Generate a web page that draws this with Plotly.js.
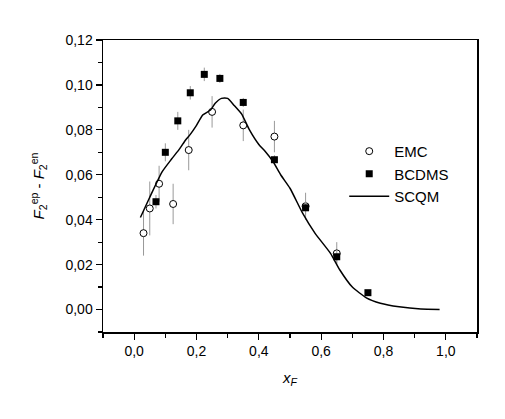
<!DOCTYPE html>
<html>
<head>
<meta charset="utf-8">
<script src="https://cdn.plot.ly/plotly-3.0.1.min.js"></script>
<style>
  body { margin: 0; padding: 0; background: #fff; }
  #chart { width: 505px; height: 419px; }
</style>
</head>
<body>
<div id="chart"></div>
<script>
// EMC data (open circles)
const emcX = [0.03, 0.05, 0.08, 0.125, 0.175, 0.25, 0.35, 0.45, 0.55, 0.65];
const emcY = [0.034, 0.045, 0.056, 0.047, 0.071, 0.088, 0.082, 0.077, 0.046, 0.025];
const emcErr = [0.010, 0.012, 0.008, 0.009, 0.009, 0.007, 0.007, 0.007, 0.006, 0.005];

// BCDMS data (filled squares)
const bcdmsX = [0.07, 0.10, 0.14, 0.18, 0.225, 0.275, 0.35, 0.45, 0.55, 0.65, 0.75];
const bcdmsY = [0.048, 0.070, 0.084, 0.0965, 0.1047, 0.1029, 0.0922, 0.0667, 0.0453, 0.0235, 0.0075];
const bcdmsErr = [0.003, 0.004, 0.004, 0.003, 0.003, 0.002, 0.002, 0.002, 0.003, 0.003, 0.001];

// SCQM curve
const scqmX = [0.02, 0.05, 0.09, 0.12, 0.145, 0.165, 0.18, 0.2, 0.22, 0.245, 0.26, 0.28, 0.3, 0.32,
               0.345, 0.37, 0.4, 0.42, 0.445, 0.47, 0.5, 0.54, 0.58, 0.63, 0.66, 0.7, 0.745, 0.79,
               0.85, 0.92, 0.98];
const scqmY = [0.041, 0.050, 0.0614, 0.067, 0.0714, 0.0755, 0.078, 0.082, 0.0866, 0.0888, 0.0918, 0.094,
               0.094, 0.091, 0.087, 0.080, 0.0735, 0.0705, 0.066, 0.060, 0.054, 0.043, 0.034, 0.025,
               0.0176, 0.0100, 0.0052, 0.0028, 0.0012, 0.0002, 0.0];

const fontFamily = 'Liberation Sans, Arial, sans-serif';
const errColor = '#999999';

const traces = [
    {
        x: emcX,
        y: emcY,
        name: 'EMC',
        type: 'scatter',
        mode: 'markers',
        marker: {symbol: 'circle', size: 7, color: '#ffffff', line: {color: '#000000', width: 1}},
        error_y: {type: 'data', array: emcErr, visible: true, color: errColor, thickness: 1, width: 0}
    },
    {
        x: bcdmsX,
        y: bcdmsY,
        name: 'BCDMS',
        type: 'scatter',
        mode: 'markers',
        marker: {symbol: 'square', size: 7, color: '#000000'},
        error_y: {type: 'data', array: bcdmsErr, visible: true, color: errColor, thickness: 1, width: 0}
    },
    {
        x: scqmX,
        y: scqmY,
        name: 'SCQM',
        type: 'scatter',
        mode: 'lines',
        line: {color: '#000000', width: 1.5, shape: 'spline', smoothing: 0.5}
    }
];

const layout = {
    width: 505,
    height: 419,
    margin: {l: 103, r: 28, t: 40, b: 87},
    paper_bgcolor: '#ffffff',
    plot_bgcolor: '#ffffff',
    separators: ', ',
    font: {family: fontFamily, size: 14, color: '#000000'},
    showlegend: true,
    legend: {
        x: 0.645, y: 0.675, xanchor: 'left', yanchor: 'top',
        bgcolor: 'rgba(0,0,0,0)',
        font: {family: fontFamily, size: 15},
        itemwidth: 40,
        tracegroupgap: 0
    },
    xaxis: {
        range: [-0.1, 1.1],
        tick0: 0, dtick: 0.2,
        tickformat: '.1f',
        ticks: 'outside', ticklen: 6, tickwidth: 1.2, tickcolor: '#000',
        minor: {dtick: 0.1, ticks: 'outside', ticklen: 4, tickcolor: '#000', tickwidth: 1.2},
        showline: true, linecolor: '#000', linewidth: 1.5, mirror: true,
        showgrid: false, zeroline: false,
        tickfont: {size: 14},
        title: {text: '<i>x</i><sub><i>F</i></sub>', font: {size: 15}, standoff: 14}
    },
    yaxis: {
        range: [-0.01, 0.12],
        tick0: 0, dtick: 0.02,
        tickformat: '.2f',
        ticks: 'outside', ticklen: 6, tickwidth: 1.2, tickcolor: '#000',
        minor: {dtick: 0.01, ticks: 'outside', ticklen: 4, tickcolor: '#000', tickwidth: 1.2},
        showline: true, linecolor: '#000', linewidth: 1.5, mirror: true,
        showgrid: false, zeroline: false,
        tickfont: {size: 14},
        title: {text: '<i>F</i><sub>2</sub><sup>ep</sup> - <i>F</i><sub>2</sub><sup>en</sup>', font: {size: 15}, standoff: 17}
    }
};

Plotly.newPlot('chart', traces, layout, {staticPlot: true});
</script>
</body>
</html>
